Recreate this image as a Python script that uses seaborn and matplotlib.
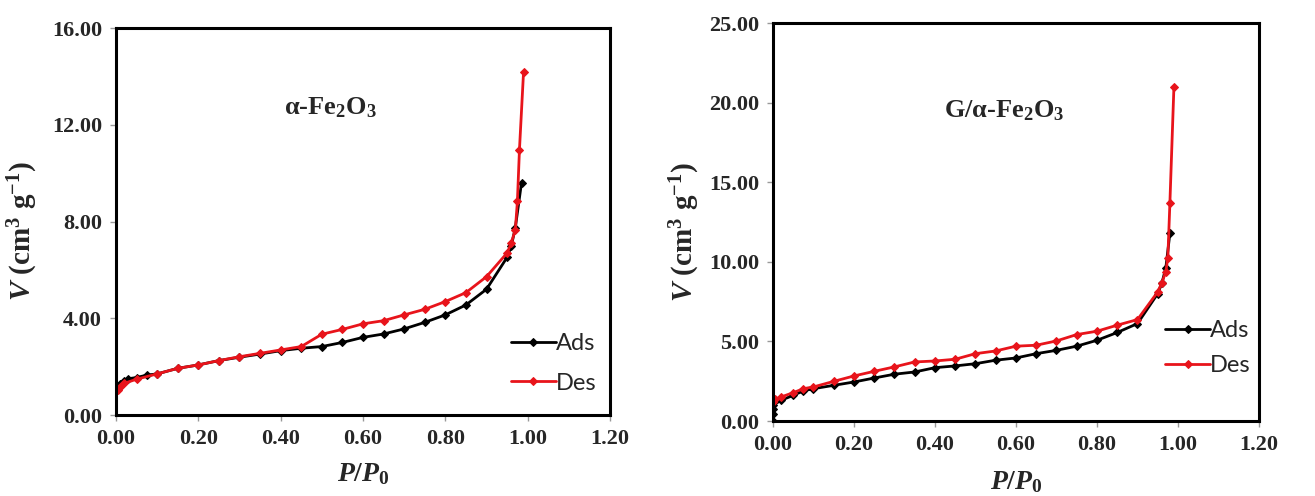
import matplotlib
matplotlib.use("Agg")
import matplotlib.pyplot as plt
import seaborn as sns
import numpy as np
from matplotlib.ticker import FormatStrFormatter

# ---------------- data ----------------
# alpha-Fe2O3
a_ads_x = [0.0, 0.005, 0.01, 0.02, 0.03, 0.05, 0.075, 0.10, 0.15, 0.20, 0.25, 0.30, 0.35, 0.40,
           0.45, 0.50, 0.55, 0.60, 0.65, 0.70, 0.75, 0.80, 0.85, 0.90, 0.95, 0.96, 0.97, 0.985]
a_ads_y = [1.10, 1.20, 1.30, 1.40, 1.50, 1.55, 1.65, 1.70, 1.93, 2.07, 2.25, 2.39, 2.52, 2.66,
           2.76, 2.83, 3.00, 3.21, 3.35, 3.56, 3.83, 4.14, 4.55, 5.20, 6.52, 6.97, 7.75, 9.60]
a_des_x = [0.99, 0.98, 0.975, 0.97, 0.96, 0.95, 0.90, 0.85, 0.80, 0.75, 0.70, 0.65, 0.60, 0.55,
           0.50, 0.45, 0.40, 0.35, 0.30, 0.25, 0.20, 0.15, 0.10, 0.05, 0.02, 0.01, 0.005]
a_des_y = [14.2, 10.97, 8.83, 7.66, 7.10, 6.70, 5.72, 5.06, 4.69, 4.37, 4.14, 3.90, 3.77, 3.54,
           3.34, 2.83, 2.69, 2.55, 2.41, 2.25, 2.07, 1.93, 1.70, 1.48, 1.31, 1.17, 1.03]

# G/alpha-Fe2O3
g_ads_x = [0.0, 0.0, 0.0, 0.0, 0.02, 0.05, 0.075, 0.10, 0.15, 0.20, 0.25, 0.30, 0.35, 0.40, 0.45,
           0.50, 0.55, 0.60, 0.65, 0.70, 0.75, 0.80, 0.85, 0.90, 0.95, 0.96, 0.97, 0.98]
g_ads_y = [0.0, 0.46, 0.78, 0.99, 1.30, 1.61, 1.89, 2.03, 2.24, 2.45, 2.70, 2.94, 3.08, 3.35, 3.46,
           3.60, 3.82, 3.96, 4.23, 4.44, 4.70, 5.07, 5.56, 6.12, 8.00, 8.64, 9.62, 11.78]
g_des_x = [0.99, 0.98, 0.975, 0.97, 0.96, 0.95, 0.90, 0.85, 0.80, 0.75, 0.70, 0.65, 0.60, 0.55,
           0.50, 0.45, 0.40, 0.35, 0.30, 0.25, 0.20, 0.15, 0.10, 0.075, 0.05, 0.02, 0.005, 0.0]
g_des_y = [21.0, 13.67, 10.27, 9.37, 8.68, 8.11, 6.37, 6.02, 5.64, 5.43, 5.03, 4.76, 4.70, 4.40,
           4.23, 3.88, 3.77, 3.71, 3.40, 3.12, 2.83, 2.49, 2.14, 2.03, 1.78, 1.51, 1.36, 1.20]

x_ticks = [0.0, 0.2, 0.4, 0.6, 0.8, 1.0, 1.2]
a_y_ticks = [0, 4, 8, 12, 16]
g_y_ticks = [0, 5, 10, 15, 20, 25]
series_labels = ["Ads", "Des"]
sample_labels = [r"$\mathbf{\alpha}$-Fe$_\mathbf{2}$O$_\mathbf{3}$",
                 r"G/$\mathbf{\alpha}$-Fe$_\mathbf{2}$O$_\mathbf{3}$"]

# ---------------- style ----------------
sns.set_theme(style="white")
plt.rcParams['font.family'] = ['Liberation Serif', 'DejaVu Serif']
plt.rcParams['mathtext.fontset'] = 'custom'
plt.rcParams['mathtext.rm'] = 'Liberation Serif:bold'
plt.rcParams['mathtext.bf'] = 'Liberation Serif:bold'
plt.rcParams['mathtext.it'] = 'Liberation Serif:bold:italic'

fig = plt.figure(figsize=(13.15, 4.96), dpi=100)
ax1 = fig.add_axes([0.0882, 0.1633, 0.3757, 0.7802])
ax2 = fig.add_axes([0.5878, 0.1512, 0.3696, 0.8024])

panels = [
    (ax1, a_ads_x, a_ads_y, a_des_x, a_des_y, a_y_ticks, 16, sample_labels[0], (0.52, 12.7),
     (-0.154, 0.475), (0.972, 0.055), 0.8),
    (ax2, g_ads_x, g_ads_y, g_des_x, g_des_y, g_y_ticks, 25, sample_labels[1], (0.57, 19.5),
     (-0.146, 0.475), (0.983, 0.112), 0.6),
]

for ax, ax_x, ax_y, dx, dy, yt, ymax, lab, lpos, ylc, legpos, lsp in panels:
    sns.lineplot(x=ax_x, y=ax_y, ax=ax, color="black", marker="D", markersize=4.5,
                 markeredgecolor="black", linewidth=2, sort=False, estimator=None,
                 label=series_labels[0])
    sns.lineplot(x=dx, y=dy, ax=ax, color="#e8141b", marker="D", markersize=4.5,
                 markeredgecolor="#e8141b", linewidth=2, sort=False, estimator=None,
                 label=series_labels[1])
    ax.set_xlim(0, 1.2)
    ax.set_ylim(0, ymax)
    ax.set_xticks(x_ticks)
    ax.set_yticks(yt)
    ax.xaxis.set_major_formatter(FormatStrFormatter("%.2f"))
    ax.yaxis.set_major_formatter(FormatStrFormatter("%.2f"))
    for lbl in ax.get_xticklabels() + ax.get_yticklabels():
        lbl.set_fontweight("bold")
        lbl.set_fontsize(16)
    ax.tick_params(axis="both", direction="out", length=4, width=1, color="#999999",
                   pad=6, bottom=True, left=True)
    for sp in ax.spines.values():
        sp.set_color("black")
        sp.set_linewidth(2.2)
    ax.set_xlabel(r"$\mathit{P}$/$\mathit{P}_\mathbf{0}$", fontsize=20, fontweight="bold")
    ax.xaxis.set_label_coords(0.5, -0.12)
    ax.set_ylabel(r"$\mathit{V}$ (cm$^\mathbf{3}$ g$^\mathbf{-1}$)", fontsize=21,
                  fontweight="bold")
    ax.yaxis.set_label_coords(*ylc)
    ax.text(lpos[0], lpos[1], lab, fontsize=19, fontweight="bold", ha="center", va="center")
    ax.legend(loc="lower right", frameon=False, handlelength=1.9, handletextpad=0.0,
              labelspacing=lsp, bbox_to_anchor=legpos, borderaxespad=0.0, borderpad=0.0,
              prop={"family": "Lato", "size": 17})
    ax.grid(False)

fig.savefig("out.png", dpi=100)
